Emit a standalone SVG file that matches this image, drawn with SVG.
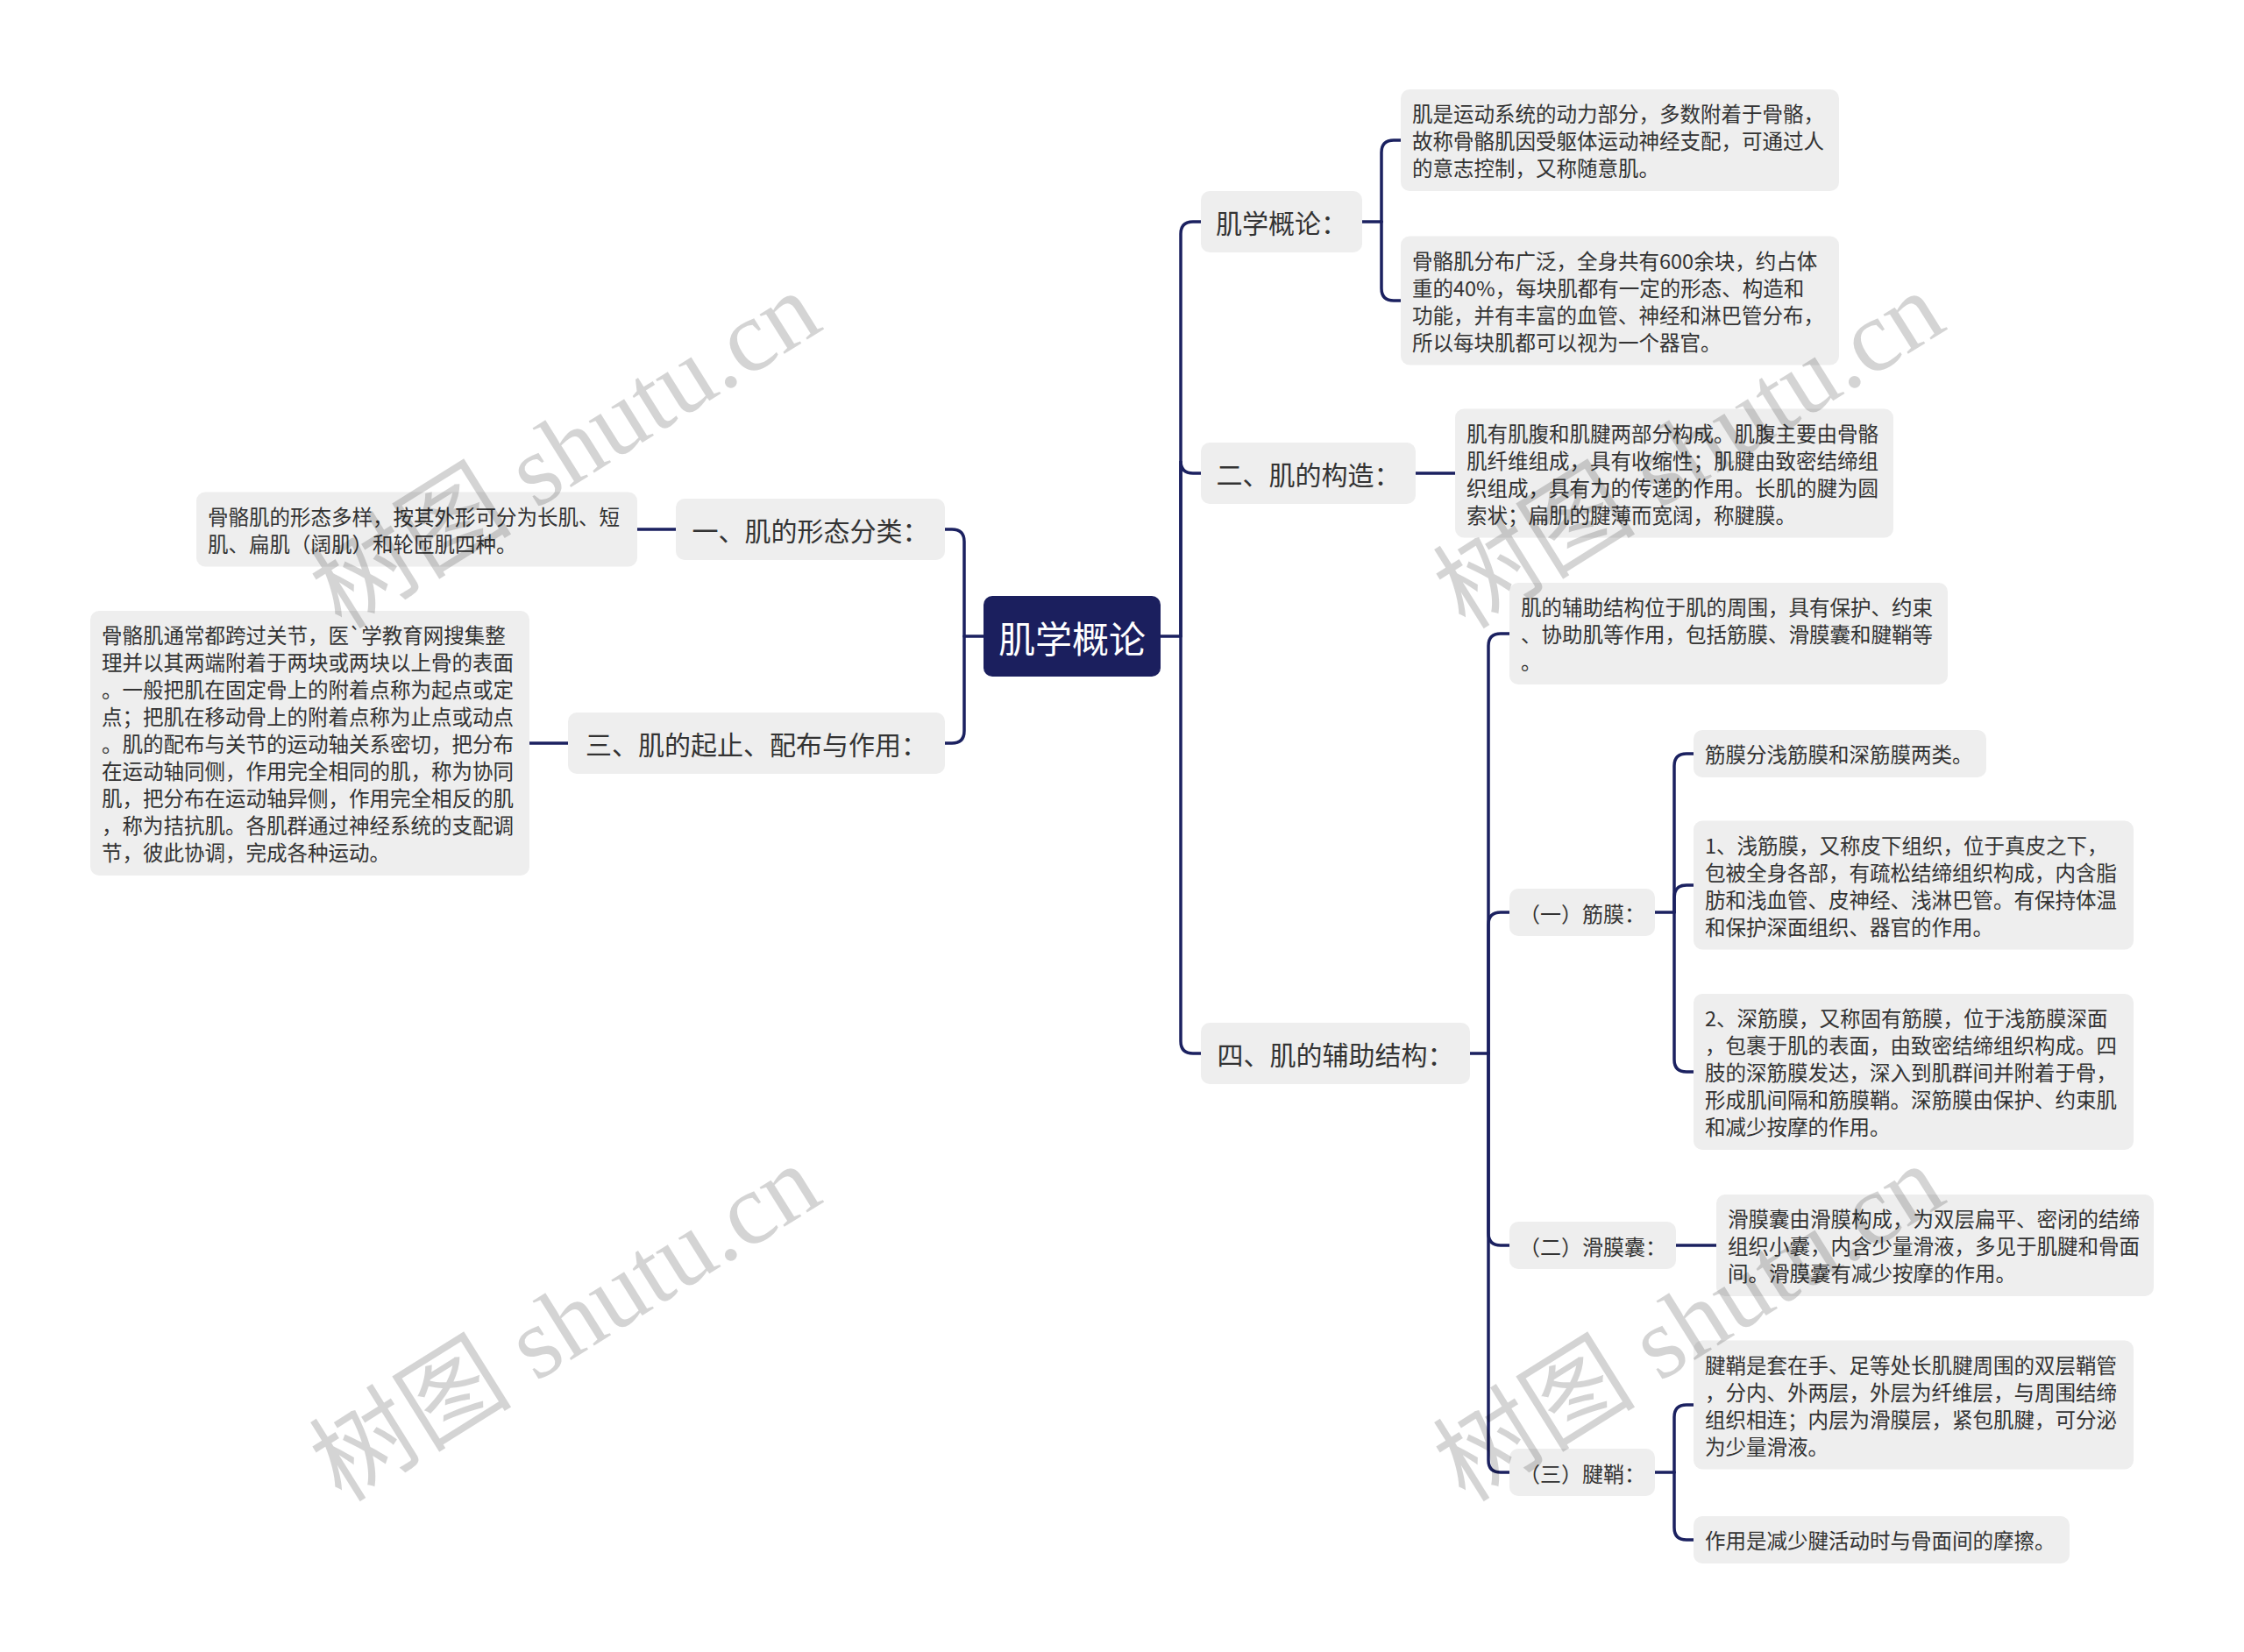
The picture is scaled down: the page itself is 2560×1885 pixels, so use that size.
<svg xmlns="http://www.w3.org/2000/svg" width="2560" height="1885" viewBox="0 0 2560 1885">
<style>
.bg{fill:#ffffff}
.box{fill:#eeeeee}
.root{fill:#1b1f5e}
.conn{fill:none;stroke:#1b2160;stroke-width:3.5;stroke-linecap:round}
.t{font-family:"Noto Sans CJK SC","Noto Sans",sans-serif;fill:#333333;dominant-baseline:central}
.body{font-size:23.5px}
.l1{font-size:30px;text-anchor:middle}
.l3{font-size:24px;text-anchor:middle}
.rt{font-family:"Noto Sans CJK SC","Noto Sans",sans-serif;font-size:42px;fill:#ffffff;text-anchor:middle;dominant-baseline:central}
.wm{font-family:"Liberation Serif","Noto Sans CJK SC",serif;font-size:116px;fill:#000000;fill-opacity:0.17;text-anchor:middle;dominant-baseline:central}
</style>
<rect class="bg" x="0" y="0" width="2560" height="1885"/>

<g id="connectors">
<path class="conn" d="M1324,726 H1347"/>
<path class="conn" d="M1347,726 V267 Q1347,253 1361,253 H1370"/>
<path class="conn" d="M1347,726 V526 Q1347,540 1361,540 H1370"/>
<path class="conn" d="M1347,726 V1188 Q1347,1202 1361,1202 H1370"/>
<path class="conn" d="M1122,726 H1100"/>
<path class="conn" d="M1100,726 V618 Q1100,604 1086,604 H1078"/>
<path class="conn" d="M1100,726 V834 Q1100,848 1086,848 H1078"/>
<path class="conn" d="M771,604 H727"/>
<path class="conn" d="M648,848 H604"/>
<path class="conn" d="M1554,253 H1576"/>
<path class="conn" d="M1576,253 V174 Q1576,160 1590,160 H1598"/>
<path class="conn" d="M1576,253 V329 Q1576,343 1590,343 H1598"/>
<path class="conn" d="M1615,540 H1660"/>
<path class="conn" d="M1677,1202 H1698"/>
<path class="conn" d="M1698,1202 V737 Q1698,723 1712,723 H1722"/>
<path class="conn" d="M1698,1202 V1055 Q1698,1041 1712,1041 H1722"/>
<path class="conn" d="M1698,1202 V1407 Q1698,1421 1712,1421 H1722"/>
<path class="conn" d="M1698,1202 V1666 Q1698,1680 1712,1680 H1722"/>
<path class="conn" d="M1888,1041 H1910"/>
<path class="conn" d="M1910,1041 V874 Q1910,860 1924,860 H1932"/>
<path class="conn" d="M1910,1041 V1024 Q1910,1010 1924,1010 H1932"/>
<path class="conn" d="M1910,1041 V1209 Q1910,1223 1924,1223 H1932"/>
<path class="conn" d="M1912,1421 H1958"/>
<path class="conn" d="M1888,1680 H1910"/>
<path class="conn" d="M1910,1680 V1617 Q1910,1603 1924,1603 H1932"/>
<path class="conn" d="M1910,1680 V1743 Q1910,1757 1924,1757 H1932"/>
</g>

<g id="root">
<rect class="root" x="1122" y="680" width="202" height="92" rx="10"/>
<text class="rt" x="1223" y="726">肌学概论</text>
</g>

<g id="n-gailun">
<rect class="box" x="1370" y="218" width="184" height="70" rx="10"/>
<text class="t l1" x="1462" y="253">肌学概论：</text>
</g>
<g id="n-gailun-1">
<rect class="box" x="1598" y="102" width="500" height="116" rx="10"/>
<text class="t body" x="1611" y="129">肌是运动系统的动力部分，多数附着于骨骼，</text>
<text class="t body" x="1611" y="160">故称骨骼肌因受躯体运动神经支配，可通过人</text>
<text class="t body" x="1611" y="191">的意志控制，又称随意肌。</text>
</g>
<g id="n-gailun-2">
<rect class="box" x="1598" y="269.5" width="500" height="147" rx="10"/>
<text class="t body" x="1611" y="297">骨骼肌分布广泛，全身共有600余块，约占体</text>
<text class="t body" x="1611" y="328">重的40%，每块肌都有一定的形态、构造和</text>
<text class="t body" x="1611" y="359">功能，并有丰富的血管、神经和淋巴管分布，</text>
<text class="t body" x="1611" y="390">所以每块肌都可以视为一个器官。</text>
</g>

<g id="n-gouzao">
<rect class="box" x="1370" y="505" width="245" height="70" rx="10"/>
<text class="t l1" x="1492.5" y="540">二、肌的构造：</text>
</g>
<g id="n-gouzao-1">
<rect class="box" x="1660" y="466.5" width="500" height="147" rx="10"/>
<text class="t body" x="1673" y="494">肌有肌腹和肌腱两部分构成。肌腹主要由骨骼</text>
<text class="t body" x="1673" y="525">肌纤维组成，具有收缩性；肌腱由致密结缔组</text>
<text class="t body" x="1673" y="556">织组成，具有力的传递的作用。长肌的腱为圆</text>
<text class="t body" x="1673" y="587">索状；扁肌的腱薄而宽阔，称腱膜。</text>
</g>

<g id="n-fuzhu">
<rect class="box" x="1370" y="1167" width="307" height="70" rx="10"/>
<text class="t l1" x="1523.5" y="1202">四、肌的辅助结构：</text>
</g>
<g id="n-fuzhu-0">
<rect class="box" x="1722" y="665" width="500" height="116" rx="10"/>
<text class="t body" x="1735" y="692">肌的辅助结构位于肌的周围，具有保护、约束</text>
<text class="t body" x="1735" y="723">、协助肌等作用，包括筋膜、滑膜囊和腱鞘等</text>
<text class="t body" x="1735" y="754">。</text>
</g>

<g id="n-jinmo">
<rect class="box" x="1722" y="1014" width="166" height="54" rx="10"/>
<text class="t l3" x="1805" y="1041">（一）筋膜：</text>
</g>
<g id="n-jinmo-1">
<rect class="box" x="1932" y="833" width="334" height="54" rx="10"/>
<text class="t body" x="1945" y="860">筋膜分浅筋膜和深筋膜两类。</text>
</g>
<g id="n-jinmo-2">
<rect class="box" x="1932" y="936.5" width="502" height="147" rx="10"/>
<text class="t body" x="1945" y="964">1、浅筋膜，又称皮下组织，位于真皮之下，</text>
<text class="t body" x="1945" y="995">包被全身各部，有疏松结缔组织构成，内含脂</text>
<text class="t body" x="1945" y="1026">肪和浅血管、皮神经、浅淋巴管。有保持体温</text>
<text class="t body" x="1945" y="1057">和保护深面组织、器官的作用。</text>
</g>
<g id="n-jinmo-3">
<rect class="box" x="1932" y="1134" width="502" height="178" rx="10"/>
<text class="t body" x="1945" y="1161">2、深筋膜，又称固有筋膜，位于浅筋膜深面</text>
<text class="t body" x="1945" y="1192">，包裹于肌的表面，由致密结缔组织构成。四</text>
<text class="t body" x="1945" y="1223">肢的深筋膜发达，深入到肌群间并附着于骨，</text>
<text class="t body" x="1945" y="1254">形成肌间隔和筋膜鞘。深筋膜由保护、约束肌</text>
<text class="t body" x="1945" y="1285">和减少按摩的作用。</text>
</g>

<g id="n-huamonang">
<rect class="box" x="1722" y="1394" width="190" height="54" rx="10"/>
<text class="t l3" x="1817" y="1421">（二）滑膜囊：</text>
</g>
<g id="n-huamonang-1">
<rect class="box" x="1958" y="1363" width="499" height="116" rx="10"/>
<text class="t body" x="1971" y="1390">滑膜囊由滑膜构成，为双层扁平、密闭的结缔</text>
<text class="t body" x="1971" y="1421">组织小囊，内含少量滑液，多见于肌腱和骨面</text>
<text class="t body" x="1971" y="1452">间。滑膜囊有减少按摩的作用。</text>
</g>

<g id="n-jianqiao">
<rect class="box" x="1722" y="1653" width="166" height="54" rx="10"/>
<text class="t l3" x="1805" y="1680">（三）腱鞘：</text>
</g>
<g id="n-jianqiao-1">
<rect class="box" x="1932" y="1529.5" width="502" height="147" rx="10"/>
<text class="t body" x="1945" y="1557">腱鞘是套在手、足等处长肌腱周围的双层鞘管</text>
<text class="t body" x="1945" y="1588">，分内、外两层，外层为纤维层，与周围结缔</text>
<text class="t body" x="1945" y="1619">组织相连；内层为滑膜层，紧包肌腱，可分泌</text>
<text class="t body" x="1945" y="1650">为少量滑液。</text>
</g>
<g id="n-jianqiao-2">
<rect class="box" x="1932" y="1730" width="429" height="54" rx="10"/>
<text class="t body" x="1945" y="1757">作用是减少腱活动时与骨面间的摩擦。</text>
</g>

<g id="n-xingtai">
<rect class="box" x="771" y="569" width="307" height="70" rx="10"/>
<text class="t l1" x="924.5" y="604">一、肌的形态分类：</text>
</g>
<g id="n-xingtai-1">
<rect class="box" x="224" y="561.5" width="503" height="85" rx="10"/>
<text class="t body" x="237" y="589">骨骼肌的形态多样，按其外形可分为长肌、短</text>
<text class="t body" x="237" y="620">肌、扁肌（阔肌）和轮匝肌四种。</text>
</g>

<g id="n-qizhi">
<rect class="box" x="648" y="813" width="430" height="70" rx="10"/>
<text class="t l1" x="863" y="848">三、肌的起止、配布与作用：</text>
</g>
<g id="n-qizhi-1">
<rect class="box" x="103" y="697" width="501" height="302" rx="10"/>
<text class="t body" x="116" y="724">骨骼肌通常都跨过关节，医`学教育网搜集整</text>
<text class="t body" x="116" y="755">理并以其两端附着于两块或两块以上骨的表面</text>
<text class="t body" x="116" y="786">。一般把肌在固定骨上的附着点称为起点或定</text>
<text class="t body" x="116" y="817">点；把肌在移动骨上的附着点称为止点或动点</text>
<text class="t body" x="116" y="848">。肌的配布与关节的运动轴关系密切，把分布</text>
<text class="t body" x="116" y="879">在运动轴同侧，作用完全相同的肌，称为协同</text>
<text class="t body" x="116" y="910">肌，把分布在运动轴异侧，作用完全相反的肌</text>
<text class="t body" x="116" y="941">，称为拮抗肌。各肌群通过神经系统的支配调</text>
<text class="t body" x="116" y="972">节，彼此协调，完成各种运动。</text>
</g>

<g id="watermarks">
<text class="wm" transform="translate(645,514) rotate(-32)">树图 shutu.cn</text>
<text class="wm" transform="translate(1927,514) rotate(-32)">树图 shutu.cn</text>
<text class="wm" transform="translate(645,1510) rotate(-32)">树图 shutu.cn</text>
<text class="wm" transform="translate(1927,1510) rotate(-32)">树图 shutu.cn</text>
</g>
</svg>
